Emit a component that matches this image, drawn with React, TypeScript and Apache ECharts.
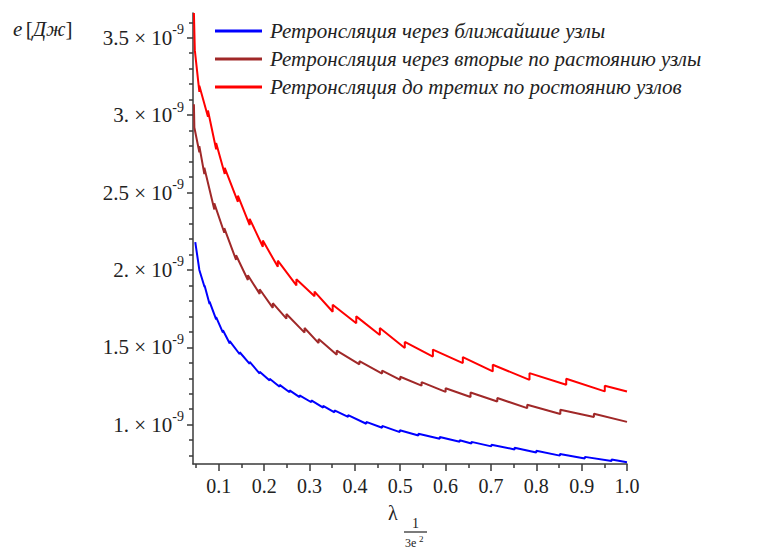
import React, { useEffect, useRef } from "react";
import * as echarts from "echarts";

// values in units of 1e-9 J, x = lambda
const seriesNames = [
  "Ретронсляция через ближайшие узлы",
  "Ретронсляция через вторые по растоянию узлы",
  "Ретронсляция до третих по ростоянию узлов",
];

const nearestPoints: [number, number][] = [
  [0.048, 2.18], [0.057, 2.0],
  [0.0685, 1.89], [0.0685, 1.9],
  [0.0795, 1.78], [0.0795, 1.795],
  [0.094, 1.68], [0.094, 1.695],
  [0.109, 1.595], [0.109, 1.61],
  [0.124, 1.525], [0.124, 1.54],
  [0.146, 1.455], [0.146, 1.468],
  [0.168, 1.393], [0.168, 1.406],
  [0.19, 1.33], [0.19, 1.342],
  [0.212, 1.285], [0.212, 1.297],
  [0.234, 1.245], [0.234, 1.257],
  [0.256, 1.21], [0.256, 1.222],
  [0.278, 1.178], [0.278, 1.19],
  [0.304, 1.145], [0.304, 1.157],
  [0.33, 1.11], [0.33, 1.122],
  [0.355, 1.08], [0.355, 1.092],
  [0.385, 1.05], [0.385, 1.062],
  [0.425, 1.006], [0.425, 1.018],
  [0.46, 0.98], [0.46, 0.992],
  [0.499, 0.952], [0.499, 0.964],
  [0.54, 0.93], [0.54, 0.942],
  [0.587, 0.909], [0.587, 0.92],
  [0.631, 0.89], [0.631, 0.9],
  [0.657, 0.878], [0.657, 0.889],
  [0.701, 0.86], [0.701, 0.871],
  [0.752, 0.84], [0.752, 0.851],
  [0.8, 0.82], [0.8, 0.831],
  [0.852, 0.8], [0.852, 0.811],
  [0.907, 0.781], [0.907, 0.792],
  [0.966, 0.765], [0.966, 0.775],
  [1.0, 0.758],
];

const secondPoints: [number, number][] = [
  [0.045, 3.07], [0.046, 2.92],
  [0.057, 2.76], [0.057, 2.8],
  [0.068, 2.62], [0.068, 2.66],
  [0.09, 2.39], [0.09, 2.43],
  [0.112, 2.24], [0.112, 2.27],
  [0.138, 2.065], [0.138, 2.095],
  [0.164, 1.935], [0.164, 1.965],
  [0.19, 1.845], [0.19, 1.875],
  [0.219, 1.755], [0.219, 1.785],
  [0.249, 1.685], [0.249, 1.715],
  [0.289, 1.595], [0.289, 1.625],
  [0.32, 1.527], [0.32, 1.553],
  [0.36, 1.452], [0.36, 1.479],
  [0.41, 1.39], [0.41, 1.41],
  [0.46, 1.33], [0.46, 1.35],
  [0.5, 1.29], [0.5, 1.31],
  [0.547, 1.252], [0.547, 1.275],
  [0.6, 1.212], [0.6, 1.235],
  [0.655, 1.179], [0.655, 1.208],
  [0.714, 1.15], [0.714, 1.172],
  [0.78, 1.107], [0.78, 1.129],
  [0.853, 1.069], [0.853, 1.097],
  [0.927, 1.05], [0.927, 1.071],
  [1.0, 1.018],
];

const thirdPoints: [number, number][] = [
  [0.045, 3.66], [0.047, 3.42],
  [0.057, 3.15], [0.057, 3.19],
  [0.076, 2.99], [0.076, 3.03],
  [0.094, 2.78], [0.094, 2.82],
  [0.113, 2.62], [0.113, 2.66],
  [0.142, 2.44], [0.142, 2.48],
  [0.168, 2.29], [0.168, 2.33],
  [0.197, 2.15], [0.197, 2.19],
  [0.23, 2.02], [0.23, 2.06],
  [0.271, 1.9], [0.271, 1.94],
  [0.311, 1.83], [0.311, 1.86],
  [0.351, 1.73], [0.351, 1.775],
  [0.403, 1.655], [0.403, 1.7],
  [0.455, 1.58], [0.455, 1.625],
  [0.51, 1.495], [0.51, 1.535],
  [0.572, 1.44], [0.572, 1.485],
  [0.638, 1.398], [0.638, 1.437],
  [0.704, 1.344], [0.704, 1.387],
  [0.785, 1.29], [0.785, 1.333],
  [0.866, 1.258], [0.866, 1.297],
  [0.951, 1.215], [0.951, 1.252],
  [1.0, 1.215],
];

const xMajorTicks = [0.1, 0.2, 0.3, 0.4, 0.5, 0.6, 0.7, 0.8, 0.9, 1.0];
const xMinorTicks = [0.05, 0.15, 0.25, 0.35, 0.45, 0.55, 0.65, 0.75, 0.85, 0.95];
const yMajorTicks = [1.0, 1.5, 2.0, 2.5, 3.0, 3.5];
const yMinorTicks = [
  0.8, 0.9, 1.1, 1.2, 1.3, 1.4, 1.6, 1.7, 1.8, 1.9, 2.1, 2.2, 2.3, 2.4,
  2.6, 2.7, 2.8, 2.9, 3.1, 3.2, 3.3, 3.4, 3.6,
];

const colors = ["#0000ff", "#a02828", "#ff0000"];
const SERIF = "'Liberation Serif', 'Times New Roman', serif";
const X_MIN = 0.043;
const X_MAX = 1.0;
const Y_MIN = 0.746;
const Y_MAX = 3.66;
const AXIS_COLOR = "#3a3a3a";
const TEXT_COLOR = "#222";

export default function App() {
  const ref = useRef<HTMLDivElement>(null);
  useEffect(() => {
    if (!ref.current) return;
    const chart = echarts.init(ref.current, undefined, { renderer: "svg" });
    const lists = [nearestPoints, secondPoints, thirdPoints];
    const option: any = {
      animation: false,
      backgroundColor: "#ffffff",
      grid: { left: 193, top: 13, right: 154, bottom: 87 },
      legend: {
        orient: "vertical",
        left: 215,
        top: 20,
        padding: 0,
        icon: "rect",
        itemWidth: 47,
        itemHeight: 3,
        itemGap: 6,
        data: seriesNames,
        textStyle: {
          fontFamily: SERIF,
          fontStyle: "italic",
          fontSize: 21,
          color: TEXT_COLOR,
          lineHeight: 22,
          padding: [0, 0, 0, 3],
        },
      },
      xAxis: [
        {
          type: "value",
          min: X_MIN,
          max: X_MAX,
          position: "bottom",
          splitLine: { show: false },
          axisLine: { show: true, onZero: false, lineStyle: { color: AXIS_COLOR, width: 1.5 } },
          axisTick: { show: true, length: 7, customValues: xMajorTicks, lineStyle: { color: AXIS_COLOR, width: 1.5 } },
          axisLabel: {
            customValues: xMajorTicks,
            margin: 12,
            fontFamily: SERIF,
            fontSize: 20,
            color: TEXT_COLOR,
            formatter: (v: number) => v.toFixed(1),
          },
        },
        {
          type: "value",
          min: X_MIN,
          max: X_MAX,
          position: "bottom",
          splitLine: { show: false },
          axisLine: { show: false, onZero: false },
          axisTick: { show: true, length: 4, customValues: xMinorTicks, lineStyle: { color: AXIS_COLOR, width: 1.5 } },
          axisLabel: { show: false },
        },
      ],
      yAxis: [
        {
          type: "value",
          min: Y_MIN,
          max: Y_MAX,
          position: "left",
          splitLine: { show: false },
          axisLine: { show: true, onZero: false, lineStyle: { color: AXIS_COLOR, width: 1.5 } },
          axisTick: { show: true, length: 6, customValues: yMajorTicks, lineStyle: { color: AXIS_COLOR, width: 1.5 } },
          axisLabel: {
            customValues: yMajorTicks,
            margin: 9,
            formatter: (v: number) => {
              const m = Number.isInteger(v) ? v + "." : String(v);
              return "{a|" + m + " × 10}{b|-9}";
            },
            rich: {
              a: { fontFamily: SERIF, fontSize: 21, color: TEXT_COLOR, lineHeight: 30, verticalAlign: "middle" },
              b: { fontFamily: SERIF, fontSize: 14, color: TEXT_COLOR, lineHeight: 14, verticalAlign: "top" },
            },
          },
        },
        {
          type: "value",
          min: Y_MIN,
          max: Y_MAX,
          position: "left",
          splitLine: { show: false },
          axisLine: { show: false, onZero: false },
          axisTick: { show: true, length: 4, customValues: yMinorTicks, lineStyle: { color: AXIS_COLOR, width: 1.5 } },
          axisLabel: { show: false },
        },
      ],
      series: seriesNames.map((name, i) => ({
        name,
        type: "line",
        xAxisIndex: 0,
        yAxisIndex: 0,
        data: lists[i],
        showSymbol: false,
        symbol: "none",
        color: colors[i],
        lineStyle: { color: colors[i], width: 2 },
      })),
      graphic: [
        {
          type: "text",
          left: 13,
          top: 18,
          style: {
            text: "{i|e} {n|[}{i|Дж}{n|]}",
            rich: {
              i: { fontFamily: SERIF, fontStyle: "italic", fontSize: 21, fill: TEXT_COLOR },
              n: { fontFamily: SERIF, fontSize: 21, fill: TEXT_COLOR },
            },
          },
        },
        {
          type: "text",
          left: 388,
          top: 503,
          style: { text: "λ", fontFamily: SERIF, fontSize: 20, fill: TEXT_COLOR },
        },
        {
          type: "text",
          left: 412,
          top: 516,
          style: { text: "1", fontFamily: SERIF, fontSize: 14, fill: TEXT_COLOR },
        },
        {
          type: "line",
          shape: { x1: 404, y1: 532, x2: 427, y2: 532 },
          style: { stroke: TEXT_COLOR, lineWidth: 1.2 },
        },
        {
          type: "text",
          left: 405,
          top: 537,
          style: { text: "3e", fontFamily: SERIF, fontSize: 12, fill: TEXT_COLOR },
        },
        {
          type: "text",
          left: 419,
          top: 534,
          style: { text: "2", fontFamily: SERIF, fontSize: 9, fill: TEXT_COLOR },
        },
      ],
    };
    chart.setOption(option);
    return () => chart.dispose();
  }, []);
  return (
    <div
      ref={ref}
      style={{ position: "fixed", left: 0, top: 0, width: 781, height: 551, background: "#fff" }}
    />
  );
}
